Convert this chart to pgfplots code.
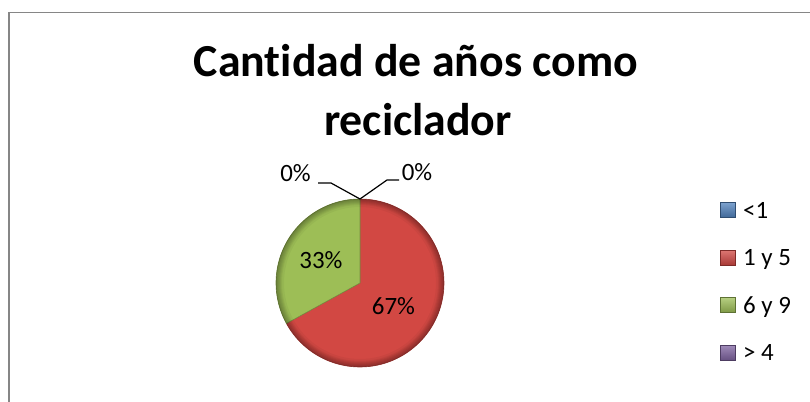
\documentclass[border=0pt]{standalone}
\usepackage{fontspec}
\setmainfont{Carlito}[Ligatures=NoCommon]
\usepackage{pgfplots}
\usepackage{pgfplotstable}
\pgfplotsset{compat=1.18}
\definecolor{cblue}{HTML}{4F81BD}
\definecolor{cred}{HTML}{D24843}
\definecolor{cgreen}{HTML}{9DBE56}
\definecolor{cpurple}{HTML}{8064A2}
\definecolor{frame}{HTML}{868686}
\pgfplotstableread{
value
0
67
33
0
}\piedata
\begin{document}
\begin{tikzpicture}
\useasboundingbox (0,0) rectangle (810bp,402bp);
\pgfplotstablegetelem{0}{value}\of\piedata \edef\va{\pgfplotsretval}
\pgfplotstablegetelem{1}{value}\of\piedata \edef\vb{\pgfplotsretval}
\pgfplotstablegetelem{2}{value}\of\piedata \edef\vc{\pgfplotsretval}
\pgfmathsetmacro\aA{90-3.6*\va}
\pgfmathsetmacro\aB{\aA-3.6*\vb}
\pgfmathsetmacro\aC{\aB-3.6*\vc}
\begin{axis}[
  at={(0,0)}, anchor=south west,
  scale only axis, width=810bp, height=402bp,
  xmin=0, xmax=810, ymin=0, ymax=402,
  hide axis, clip=false,
  legend style={at={(axis cs:720,200)}, anchor=north west, draw=none, fill=none,
    font=\fontsize{25}{30}\selectfont, row sep=26.5bp, inner sep=0pt,
    nodes={inner sep=0pt, text height=16bp, text depth=5bp},
    /tikz/every odd column/.append style={column sep=7.5bp}},
  legend cell align=left,
]
% frame
\draw[frame, line width=2bp] (9,0) -- (9,389.5);
\draw[frame, line width=1.4bp] (8,389.5) -- (810,389.5);
% title
\node[anchor=base, font=\fontsize{46}{55}\selectfont\bfseries] at (416,325) {Cantidad de años como};
\node[anchor=base, font=\fontsize{46}{55}\selectfont\bfseries] at (418,266) {reciclador};
% slices
\addplot[forget plot, draw=cred!80!black, fill=cred, line width=0.6bp, domain=\aB:\aA, samples=90, variable=\t]
  ({360+84*cos(\t)},{119+84*sin(\t)}) -- (360,119) -- cycle;
\addplot[forget plot, draw=cgreen!75!black, fill=cgreen, line width=0.6bp, domain=\aC:\aB, samples=60, variable=\t]
  ({360+84*cos(\t)},{119+84*sin(\t)}) -- (360,119) -- cycle;
% rim shading
\begin{scope}
\clip (360,119) circle[radius=84];
\draw[black, opacity=0.05, line width=2bp] (360,119) circle[radius=84];
\draw[black, opacity=0.05, line width=4bp] (360,119) circle[radius=84];
\draw[black, opacity=0.05, line width=6bp] (360,119) circle[radius=84];
\draw[black, opacity=0.05, line width=8bp] (360,119) circle[radius=84];
\draw[black, opacity=0.05, line width=10bp] (360,119) circle[radius=84];
\draw[black, opacity=0.05, line width=12bp] (360,119) circle[radius=84];
\draw[black, opacity=0.04, line width=16bp] (360,119) circle[radius=84];
\end{scope}
% labels
\node[anchor=base, font=\fontsize{25}{30}\selectfont] at (321,133.4) {33\%};
\node[anchor=base, font=\fontsize{25}{30}\selectfont] at (393.5,87) {67\%};
\node[anchor=base, font=\fontsize{25}{30}\selectfont] at (295.5,220) {0\%};
\node[anchor=base, font=\fontsize{25}{30}\selectfont] at (417,221.5) {0\%};
\draw[black, line width=1.2bp] (318,219) -- (331,219) -- (360,203);
\draw[black, line width=1.2bp] (360,203) -- (387,222) -- (399,222);
% legend
\addlegendimage{legend image code/.code={\shade[draw=cblue!60!black, top color=cblue!75!white, bottom color=cblue!80!black] (0bp,-5bp) rectangle (15bp,10bp);}}
\addlegendentry{<1}
\addlegendimage{legend image code/.code={\shade[draw=cred!60!black, top color=cred!75!white, bottom color=cred!80!black] (0bp,-5bp) rectangle (15bp,10bp);}}
\addlegendentry{1 y 5}
\addlegendimage{legend image code/.code={\shade[draw=cgreen!60!black, top color=cgreen!75!white, bottom color=cgreen!80!black] (0bp,-5bp) rectangle (15bp,10bp);}}
\addlegendentry{6 y 9}
\addlegendimage{legend image code/.code={\shade[draw=cpurple!60!black, top color=cpurple!75!white, bottom color=cpurple!80!black] (0bp,-5bp) rectangle (15bp,10bp);}}
\addlegendentry{> 4}
\end{axis}
\end{tikzpicture}
\end{document}
